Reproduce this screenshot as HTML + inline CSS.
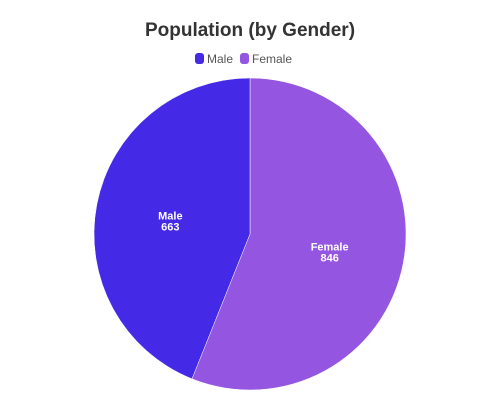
<!DOCTYPE html>
<html><head><meta charset="utf-8"><style>
body{margin:0;background:#fff;font-family:"Liberation Sans",sans-serif}
svg{display:block}
</style></head><body>
<svg id="chart" width="500" height="400">
<text x="250" y="36" text-anchor="middle" font-size="19" font-weight="bold" fill="#333">Population (by Gender)</text>
<g>
<rect x="195" y="53" width="9" height="11" rx="3" fill="#4429e6"/>
<text x="207" y="63" font-size="12" fill="#555">Male</text>
<rect x="240" y="53" width="9" height="11" rx="3" fill="#9455e0"/>
<text x="252" y="63" font-size="12" fill="#555">Female</text>
</g>
<g id="slices"></g>
</svg>
<script>
const categories = ["Female", "Male"];
const values = [846, 663];
const colors = ["#9455e0", "#4429e6"];
const cx = 250, cy = 234, r = 156;
const g = document.getElementById('slices');
const total = values.reduce((a, b) => a + b, 0);
let a0 = 0;
const ns = "http://www.w3.org/2000/svg";
values.forEach((v, i) => {
  const a1 = a0 + v / total * 2 * Math.PI;
  const p = (a) => [cx + r * Math.sin(a), cy - r * Math.cos(a)];
  const [x0, y0] = p(a0), [x1, y1] = p(a1);
  const large = (a1 - a0) > Math.PI ? 1 : 0;
  const path = document.createElementNS(ns, 'path');
  path.setAttribute('d', `M${cx},${cy}L${x0},${y0}A${r},${r} 0 ${large} 1 ${x1},${y1}Z`);
  path.setAttribute('fill', colors[i]);
  path.setAttribute('stroke', '#fff');
  path.setAttribute('stroke-width', '0.5');
  
  
  g.appendChild(path);
  const am = (a0 + a1) / 2;
  const lx = cx + r * 0.52 * Math.sin(am), ly = cy - r * 0.52 * Math.cos(am);
  const t = document.createElementNS(ns, 'text');
  t.setAttribute('x', lx);
  t.setAttribute('y', ly + 1);
  t.setAttribute('text-anchor', 'middle');
  t.setAttribute('font-size', '11');
  t.setAttribute('font-weight', 'bold');
  t.setAttribute('fill', '#fff');
  
  
  const s1 = document.createElementNS(ns, 'tspan');
  s1.setAttribute('x', lx); s1.textContent = categories[i];
  const s2 = document.createElementNS(ns, 'tspan');
  s2.setAttribute('x', lx); s2.setAttribute('dy', '11'); s2.textContent = v;
  t.appendChild(s1); t.appendChild(s2);
  g.appendChild(t);
  a0 = a1;
});
</script>
</body></html>
